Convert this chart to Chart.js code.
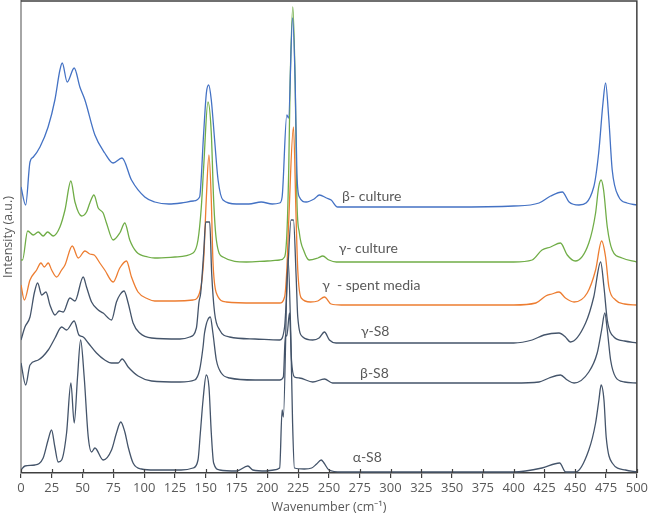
<!DOCTYPE html>
<html>
<head>
<meta charset="utf-8">
<script src="https://cdn.jsdelivr.net/npm/chart.js@4"></script>
<style>
  html, body { margin: 0; padding: 0; background: #fff; }
  #wrap { width: 650px; height: 518px; }
</style>
</head>
<body>
<div id="wrap"><canvas id="c" width="650" height="518"></canvas></div>
<script>
// Raman spectra as [wavenumber, intensity (a.u., stacked)]
const seriesNames = ["α-S8", "β-S8", "γ-S8", "γ  - spent media", "β- culture", "γ- culture"];
const xTicks = [0, 25, 50, 75, 100, 125, 150, 175, 200, 225, 250, 275, 300, 325, 350, 375, 400, 425, 450, 475, 500];

const betaCulture = [[0,286],[3.8,268],[7.3,311],[10,316],[15.4,326],[22,346],[27.5,373],[31.6,403],[33.5,410],[37.5,391],
  [43.2,405],[47.8,386],[51.9,373],[60,338],[68,320],[74.8,310],[82,315],[89.7,293],[100.5,276],[108.6,271],[120,269],
  [130,270],[140,272],[145,276],[148.3,340],[150.5,380],[152.4,388],[154.5,373],[157.2,333],[160,293],[164,273],[174.8,269],
  [185,269],[195,271],[204,269],[210,270],[212,276],[215.8,358],[217.2,355],[220.5,455],[222.6,390],[224,300],[226,276],
  [231.5,271],[238,274],[242.3,278],[248,275],[251.8,273],[257,266],[300,266],[350,266],[400,267],[420.6,270],[430,277],
  [439.5,281],[445,271],[453,268],[465,286],[469,320],[472.5,370],[474.6,390],[477.3,353],[480,303],[485.4,276],[492,270],[500,268]];

const gammaCulture = [[0,213],[1.2,213],[5.4,242],[10,238],[14,241],[18,237],[21.6,241],[26.2,237],[31.6,246],[35.7,263],
  [40.5,292],[43.8,271],[49.2,257],[53.2,261],[55.9,270],[59.2,278],[62.7,265],[66.7,260],[69.4,250],[74.8,233],[80.2,240],
  [84.3,250],[88.3,233],[93.8,221],[103,216],[108.6,215],[125,216],[139.7,220],[143.7,233],[146.4,266],[148.3,306],
  [151.8,371],[154.5,340],[156.4,273],[158.6,233],[164,216],[183,211],[200,212],[210,213],[214,216],[216,243],[217.4,306],
  [218.5,390],[220.7,466],[222.6,390],[224,273],[226,240],[230,221],[234,213],[241,215],[245,217],[250,213],[256,211],
  [300,211],[350,211],[400,211],[415,213],[423,223],[430,226],[438,230],[443.5,218],[450,212],[461,230],[466.5,260],
  [469,286],[471,293],[473,283],[476,246],[480,223],[488,215],[500,211]];

const gammaSpent = [[0,188],[2.7,173],[7.3,193],[12.7,203],[16.2,210],[18.9,206],[22.1,210],[24.9,203],[28.9,196],[33,203],
  [35.7,208],[41.6,227],[46.5,215],[51.9,222],[55.9,219],[59.4,218],[64,210],[68,203],[74.8,191],[80.2,205],[85.6,212],
  [89.7,196],[95,181],[103.2,174],[108.6,172],[125,172],[139.7,173],[145.6,183],[148.3,213],[150.4,273],[152.6,318],
  [154.5,273],[155.8,213],[158.6,180],[166.7,171],[190,170],[210,170],[214,176],[215.8,203],[217.4,253],[221.2,346],
  [223.4,253],[224.7,203],[227.5,175],[235,171],[241,172],[246.4,176],[251.8,169],[260,168],[300,168],[350,168],[400,168],
  [418,170],[426,177],[431,179],[436.8,181],[442,175],[449,171],[459.7,180],[466.5,203],[471.4,232],[474.6,216],
  [477.3,186],[482.7,173],[490,169],[500,168]];

const gammaS8 = [[0,133],[3.2,146],[7.3,156],[10.8,180],[13.5,190],[16.8,178],[20.3,181],[23.5,168],[27.6,158],[31,162],
  [34.3,161],[39.7,175],[43.8,172],[50.5,196],[53.2,186],[57.3,171],[62.7,163],[66.7,160],[73.5,153],[77.5,171],[80.2,178],
  [83.7,182],[87,170],[91,150],[96.4,140],[106,135],[129,134],[137,136],[142.4,145],[144.5,171],[145.9,180],[148.3,220],
  [150,251],[153.2,251],[154.8,200],[157.2,160],[161.3,143],[169.4,136],[190,134],[209.9,133],[214,146],[216.6,203],
  [219.3,253],[221.2,253],[223.4,196],[224.7,156],[228.8,136],[236.9,133],[242,135],[246.4,141],[250.4,133],[255.8,130],
  [300,130],[350,130],[400,130],[415,133],[424.6,138],[436.8,140],[442,136],[446,131],[458.4,150],[465,176],[470.6,211],
  [473.3,186],[476,153],[481.4,136],[490,132],[500,130]];

const betaS8 = [[0,110],[3.8,88],[7.3,108],[14,113],[22.1,123],[27.6,135],[33,146],[37,143],[43.2,152],[47,138],[50.5,136],
  [54.6,130],[61.3,120],[68,113],[73.5,110],[78.9,110],[82.1,114],[87,106],[95.1,97],[106,92],[129,91],[141,93],[145,103],
  [147.8,126],[149,140],[153.7,156],[155.8,140],[158.6,113],[162.6,100],[169.4,95],[190,93],[210,93],[213,96],[214.7,138],
  [215.8,137],[218,160],[219.6,113],[222,96],[226,95],[236.9,91],[246.4,94],[253,90],[300,90],[350,90],[400,90],
  [420.6,91],[428.7,95],[438,98],[443.5,93],[449,90],[461,101],[467.8,120],[471.4,143],[474,160],[476,143],[478.7,113],
  [482.7,96],[490,91],[500,90]];

const alphaS8 = [[0,3],[3.2,7],[11.3,8],[18,15],[22,33],[24.8,43],[27.5,26],[30.2,11],[33,13],[37,40],[40.5,90],[43.2,50],
  [45.9,96],[48.4,133],[51.3,96],[54.6,36],[57.3,21],[60,25],[66.7,13],[73.5,23],[77.5,40],[81,51],[84.3,41],[87,26],
  [91,10],[97.8,4],[108.6,3],[130,3],[139.7,5],[143.7,13],[145.6,40],[147.8,73],[150.4,98],[152.6,86],[154.5,40],
  [156.4,10],[161.3,3],[175,2],[184.2,7],[188.2,3],[199,2],[205,3],[210,5],[212,63],[213,56],[216.8,215],[219,140],
  [220.5,50],[222,5],[230,4],[236,5],[240,9],[243.7,13],[246,10],[250,3],[260,1],[300,1],[350,1],[400,1],[423,5],
  [437.3,10],[442.2,1],[450.3,1],[461,23],[466.5,50],[469.2,73],[471,88],[473.3,73],[475.1,36],[480,10],[490.8,3],[500,1]];

// label anchors in data units (wavenumber, intensity)
const labelAnchors = [[269.3,15.7],[275.3,99.7],[276,141.3],[244.5,188],[260.7,277],[257.9,224.7]];

const spectra = [alphaS8, betaS8, gammaS8, gammaSpent, betaCulture, gammaCulture];
const colors = ["#44546a", "#44546a", "#44546a", "#ed7d31", "#4472c4", "#70ad47"];

const FONT = "'Open Sans', 'Liberation Sans', sans-serif";
const LABEL_FONT = "Lato, 'Open Sans', sans-serif";

const labelPlugin = {
  id: "labels",
  afterDatasetsDraw(chart) {
    const ctx = chart.ctx, xs = chart.scales.x, ys = chart.scales.y;
    ctx.save();
    ctx.font = "14px " + LABEL_FONT;
    ctx.fillStyle = "#595959";
    ctx.textBaseline = "middle";
    seriesNames.forEach((name, i) => {
      ctx.fillText(name, xs.getPixelForValue(labelAnchors[i][0]), ys.getPixelForValue(labelAnchors[i][1]));
    });
    // frame top/right and tick marks crossing the x axis
    const a = chart.chartArea;
    ctx.strokeStyle = "#404040";
    ctx.lineWidth = 1.5;
    ctx.beginPath();
    ctx.moveTo(a.left, a.top); ctx.lineTo(a.right, a.top); ctx.lineTo(a.right, a.bottom);
    ctx.stroke();
    ctx.lineWidth = 1.2;
    ctx.beginPath();
    xTicks.forEach(t => {
      const px = Math.round(xs.getPixelForValue(t)) + 0.5;
      ctx.moveTo(px, a.bottom - 4); ctx.lineTo(px, a.bottom);
    });
    ctx.stroke();
    ctx.restore();
  }
};

new Chart(document.getElementById("c").getContext("2d"), {
  type: "line",
  data: {
    datasets: spectra.map((s, i) => ({
      label: seriesNames[i],
      data: s.map(p => ({ x: p[0], y: p[1] })),
      borderColor: colors[i],
      borderWidth: 1.3,
      pointRadius: 0,
      cubicInterpolationMode: "monotone",
      fill: false
    }))
  },
  options: {
    responsive: false,
    animation: false,
    layout: { padding: { top: 1, right: 12, left: 0, bottom: 0 } },
    plugins: { legend: { display: false }, tooltip: { enabled: false } },
    scales: {
      x: {
        type: "linear",
        min: 0, max: 500,
        afterBuildTicks: s => { s.ticks = xTicks.map(v => ({ value: v })); },
        ticks: { color: "#595959", font: { family: FONT, size: 13 }, maxRotation: 0, padding: 2 },
        grid: { drawOnChartArea: false, drawTicks: true, tickLength: 5, color: "#404040", lineWidth: 1.2 },
        border: { color: "#404040", width: 1.5 },
        title: { display: true, text: "Wavenumber (cm⁻¹)", color: "#595959", font: { family: FONT, size: 12.5 }, padding: { top: 2, bottom: 3 } },
        afterFit: s => { s.height = 45; }
      },
      y: {
        min: 0, max: 472,
        ticks: { display: false },
        grid: { display: false, drawTicks: false },
        border: { color: "#a6a6a6", width: 2 },
        title: { display: true, text: "Intensity (a.u.)", color: "#595959", font: { family: FONT, size: 12.5 }, padding: { top: 1, bottom: 0 } },
        afterFit: s => { s.width = 21; }
      }
    }
  },
  plugins: [labelPlugin]
});
</script>
</body>
</html>
